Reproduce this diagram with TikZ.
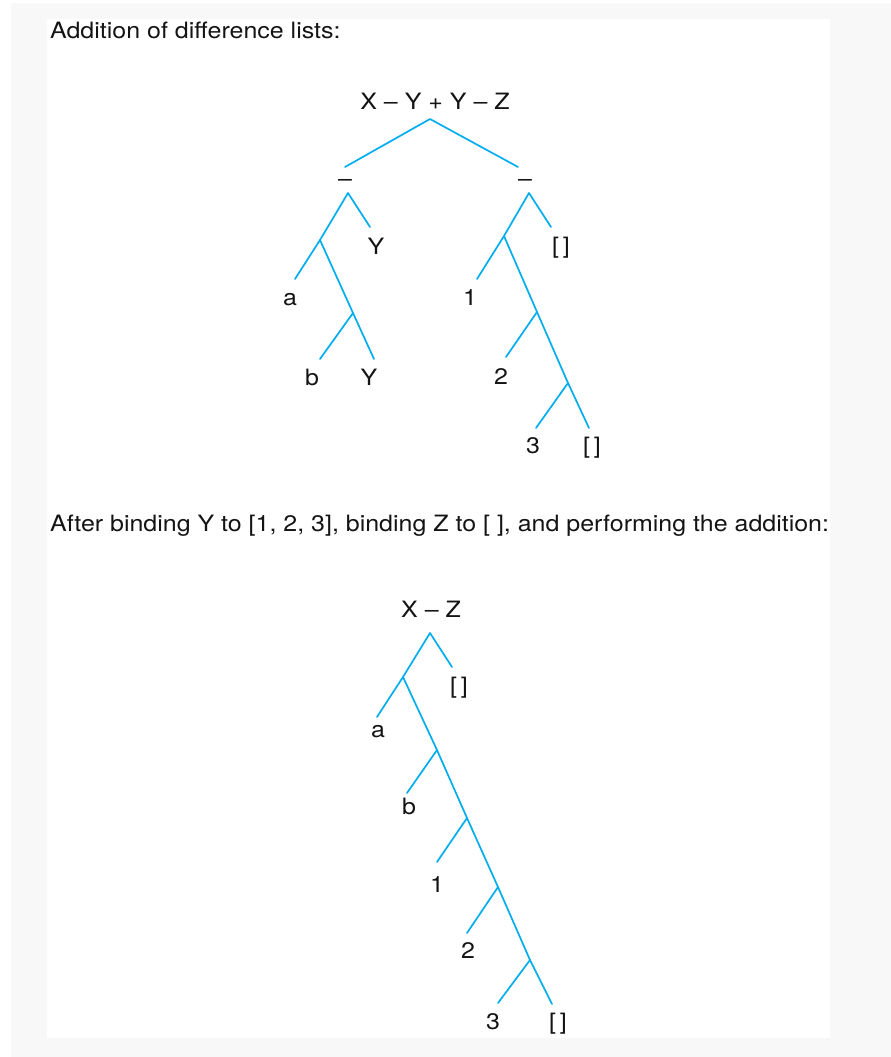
\documentclass[tikz,border=0pt]{standalone}
\usepackage{fontspec}
\setmainfont{TeX Gyre Heros}[FakeStretch=1.11]
\definecolor{branch}{RGB}{0,174,239}
\definecolor{panelbg}{RGB}{248,248,248}
\definecolor{ink}{RGB}{20,20,20}
\tikzset{
  edge/.style={draw=branch, line width=1.7pt, line cap=round, line join=round},
  lbl/.style={anchor=base, inner sep=0pt, text=ink, font=\fontsize{22.5}{27}\selectfont},
  ttl/.style={anchor=base west, inner sep=0pt, text=ink, font=\fontsize{22.5}{27}\selectfont},
}
\begin{document}
\begin{tikzpicture}[x=1pt,y=-1pt]
\useasboundingbox (0,0) rectangle (891,1057);
\fill[white] (0,0) rectangle (891,1057);
\fill[panelbg] (11,3) rectangle (891,1057);
\fill[white] (47,19) rectangle (830,1038);

% titles
\node[ttl] (t1) at (50,39) {Addition of difference lists:};
\node[ttl] (t2) at (50,531) {After binding Y to [1, 2, 3], binding Z to [ ], and performing the addition:};

% ---------- top tree ----------
\node[lbl] (rootA) at (435,109) {X – Y + Y – Z};
\node[lbl] (mL) at (345,186) {–};
\node[lbl] (mR) at (525,186) {–};
\node[lbl] (yA) at (376,254) {Y};
\node[lbl] (eA) at (561,253) {[\,]};
\node[lbl] (aA) at (290,305) {a};
\node[lbl] (oneA) at (470,305) {1};
\node[lbl] (bA) at (312,385) {b};
\node[lbl] (yB) at (369,385) {Y};
\node[lbl] (twoA) at (501,384) {2};
\node[lbl] (threeA) at (533,453) {3};
\node[lbl] (eB) at (592,453) {[\,]};

\coordinate (r0) at (430,119);
\coordinate (r0L) at (345,167);
\coordinate (r0R) at (518,167);
\coordinate (j1) at (348,193);
\coordinate (j1R) at (370,227);
\coordinate (j2) at (320,240);
\coordinate (j2L) at (295,279);
\coordinate (j3) at (353,313);
\coordinate (j3L) at (320,359);
\coordinate (j3R) at (374,359);
\coordinate (j4) at (529,193);
\coordinate (j4R) at (551,227);
\coordinate (j5) at (504,236);
\coordinate (j5L) at (477,279);
\coordinate (j6) at (537,312);
\coordinate (j6L) at (506,357);
\coordinate (j7) at (568,383);
\coordinate (j7L) at (536,428);
\coordinate (j7R) at (589,428);

\draw[edge] (r0L) -- (r0) -- (r0R);
\draw[edge] (j1R) -- (j1) -- (j2);
\draw[edge] (j2L) -- (j2) -- (j3);
\draw[edge] (j3L) -- (j3) -- (j3R);
\draw[edge] (j4R) -- (j4) -- (j5);
\draw[edge] (j5L) -- (j5) -- (j6);
\draw[edge] (j6L) -- (j6) -- (j7);
\draw[edge] (j7L) -- (j7) -- (j7R);

% ---------- bottom tree ----------
\node[lbl] (rootB) at (431,617) {X – Z};
\node[lbl] (eC) at (459,693) {[\,]};
\node[lbl] (aB) at (378,737) {a};
\node[lbl] (bB) at (409,814) {b};
\node[lbl] (oneB) at (437,892) {1};
\node[lbl] (twoB) at (468,958) {2};
\node[lbl] (threeB) at (493,1029) {3};
\node[lbl] (eD) at (558,1029) {[\,]};

\coordinate (k0) at (430,633);
\coordinate (k0R) at (452,667);
\coordinate (k1) at (403,677);
\coordinate (k1L) at (377,717);
\coordinate (k2) at (437,750);
\coordinate (k2L) at (407,793);
\coordinate (k3) at (467,818);
\coordinate (k3L) at (437,862);
\coordinate (k4) at (498,887);
\coordinate (k4L) at (467,933);
\coordinate (k5) at (530,960);
\coordinate (k5L) at (498,1003);
\coordinate (k5R) at (552,1004);

\draw[edge] (k0R) -- (k0) -- (k1);
\draw[edge] (k1L) -- (k1) -- (k2);
\draw[edge] (k2L) -- (k2) -- (k3);
\draw[edge] (k3L) -- (k3) -- (k4);
\draw[edge] (k4L) -- (k4) -- (k5);
\draw[edge] (k5L) -- (k5) -- (k5R);
\end{tikzpicture}
\end{document}
